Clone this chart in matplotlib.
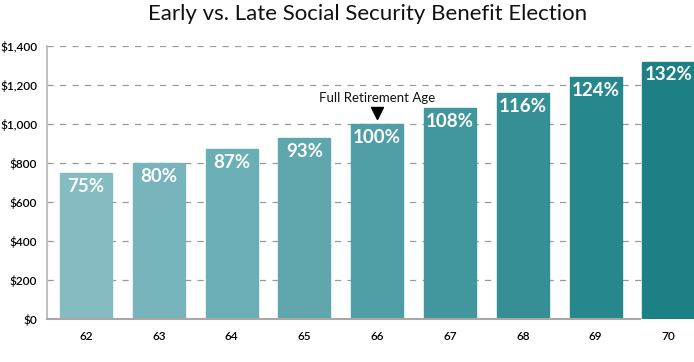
import numpy as np
import matplotlib
matplotlib.use('Agg')
import matplotlib.pyplot as plt

ages = ['62', '63', '64', '65', '66', '67', '68', '69', '70']
benefit = [750, 800, 870, 930, 1000, 1080, 1160, 1240, 1320]
pct_labels = ['75%', '80%', '87%', '93%', '100%', '108%', '116%', '124%', '132%']
bar_colors = ['#84bcc2', '#77b4bb', '#6aafb5', '#5fa6ad', '#4f9ea5',
              '#42979e', '#358f95', '#26878c', '#1d8085']
yticks = [0, 200, 400, 600, 800, 1000, 1200, 1400]
ytick_labels = ['$0', '$200', '$400', '$600', '$800', '$1,000', '$1,200', '$1,400']

plt.rcParams['font.family'] = ['Lato', 'DejaVu Sans']

W, H = 694, 362
fig = plt.figure(figsize=(W / 100, H / 100), dpi=100)
# axes from x=47 to right edge, y from $0 (px 319) to $1400 (px 46)
ax = fig.add_axes([47 / W, (H - 319) / H, 1 - 47 / W, (319 - 46) / H])

x = np.arange(len(ages))
step = 72.8
xmin = (47 - 86) / step
xmax = (694 - 86) / step
ax.set_xlim(xmin, xmax)
ax.set_ylim(0, 1400)

for y in yticks[1:]:
    ax.plot([xmin, xmax], [y, y], color='#9a9a9a', lw=0.9, ls=(0, (5, 5)), zorder=1)

ax.bar(x, benefit, width=0.715, color=bar_colors, edgecolor=bar_colors, zorder=2)

for xi, v, lab in zip(x, benefit, pct_labels):
    ax.text(xi, v - 25, lab, ha='center', va='top', color='white',
            fontsize=13.5, fontweight='bold', zorder=3)

# Full retirement age marker
ax.plot(4, 1055, marker='v', color='black', markersize=9, zorder=3)
ax.text(4, 1105, 'Full Retirement Age', ha='center', va='bottom', fontsize=9.5, color='#111111')

for s in ['top', 'right', 'bottom']:
    ax.spines[s].set_visible(False)
ax.spines['left'].set_color('#b5b5b5')
ax.spines['left'].set_linewidth(1.2)
ax.plot([xmin, (640 - 86) / step], [0, 0], color='#a8a8a8', lw=1.5, zorder=4, clip_on=False)

ax.set_yticks(yticks)
ax.set_yticklabels(ytick_labels, fontsize=8.5, fontweight='semibold')
ax.set_xticks(x)
ax.set_xticklabels(ages, fontsize=8.5, fontweight='semibold')
ax.tick_params(axis='both', length=0)
ax.tick_params(axis='x', pad=9)
ax.tick_params(axis='y', pad=7)

fig.text(368 / W, 1 - 14 / H, 'Early vs. Late Social Security Benefit Election',
         ha='center', va='center', fontsize=16, color='#111111')

fig.savefig('out.png', dpi=100)
